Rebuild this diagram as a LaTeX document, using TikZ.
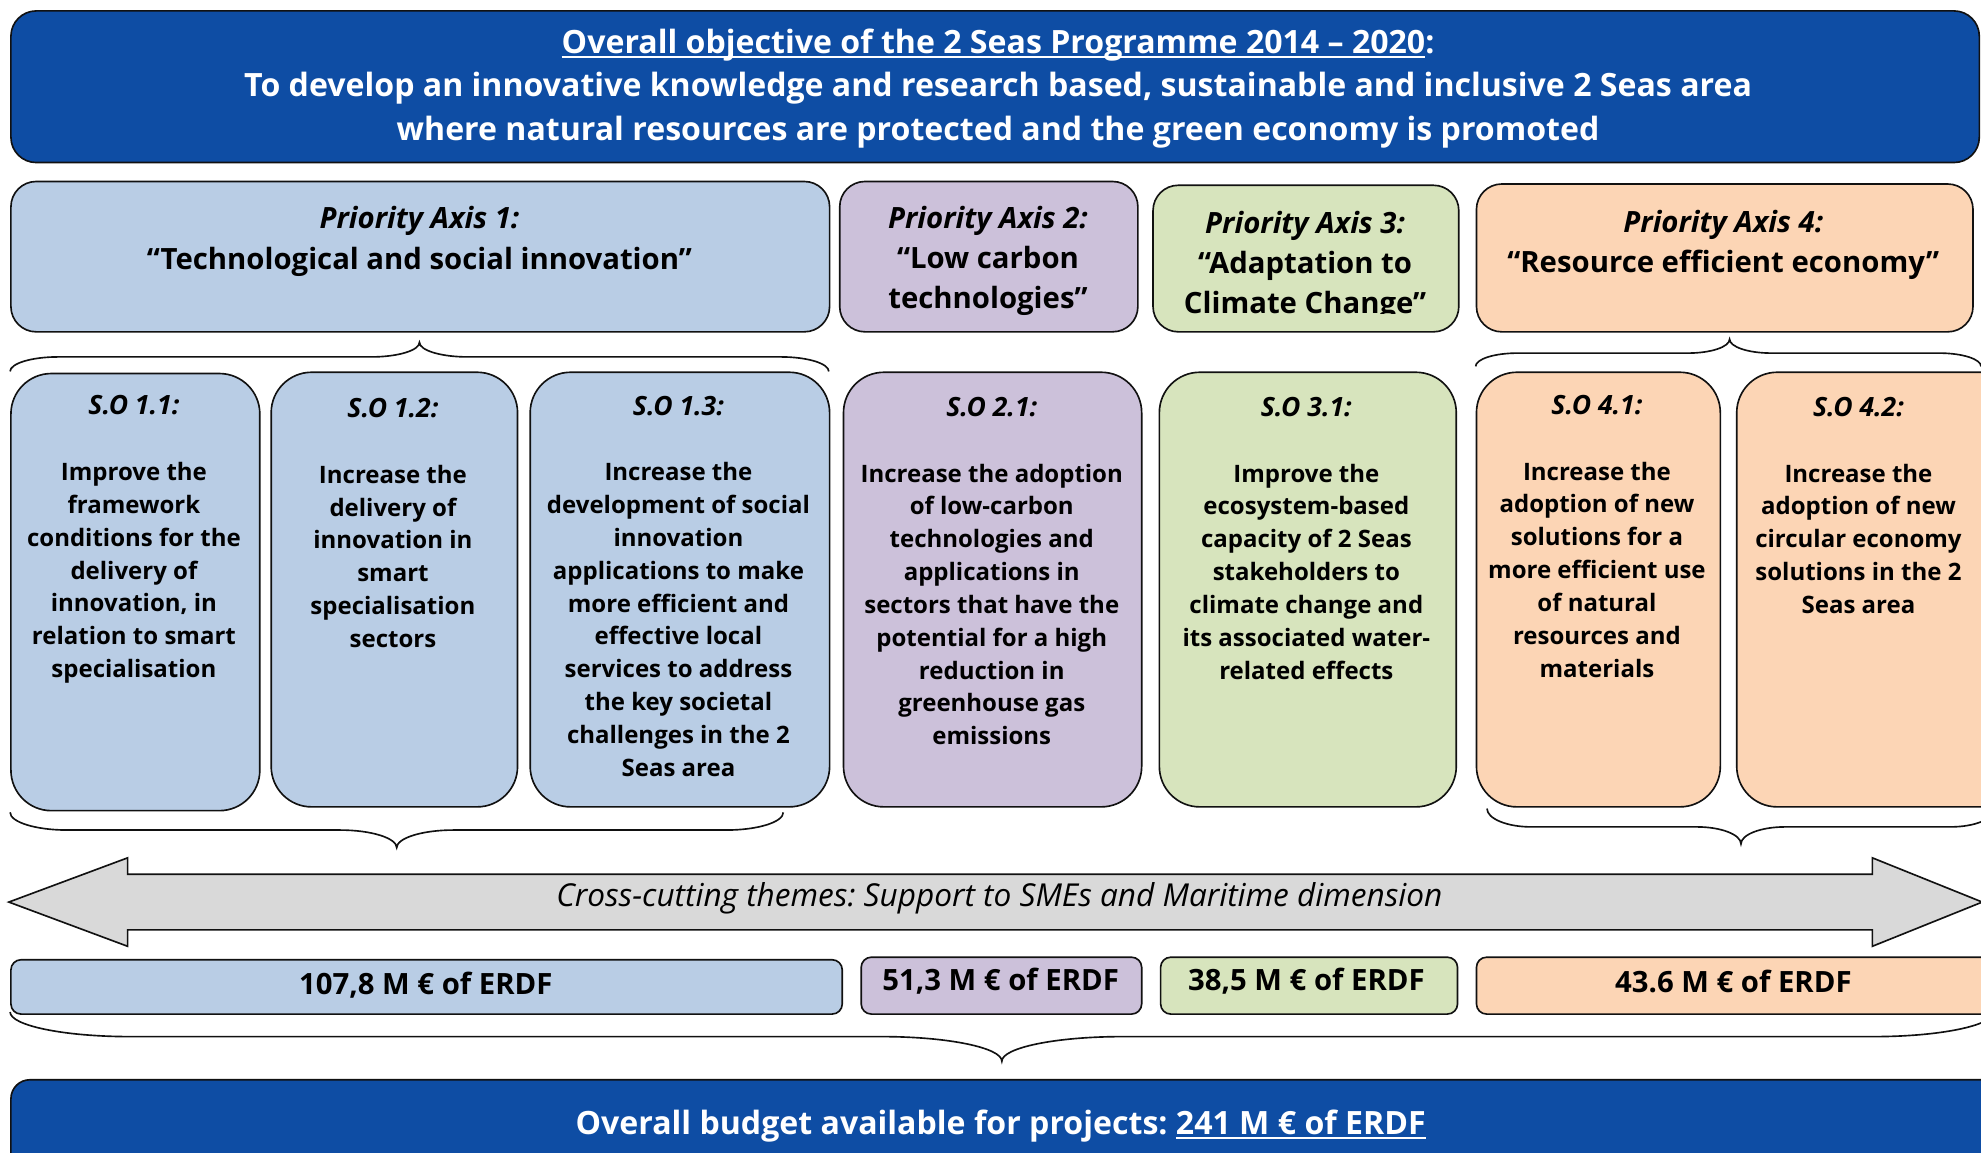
\documentclass[tikz,border=0pt]{standalone}
\usepackage{fontspec}
\setmainfont{Open Sans}
\frenchspacing
\newsavebox{\ulbox}
\newcommand{\myul}[1]{\sbox{\ulbox}{#1}\rlap{\rule[-3.6pt]{\wd\ulbox}{1.6pt}}\usebox{\ulbox}}
\newcommand{\sotitle}[1]{{\fontsize{21}{26}\selectfont\itshape #1}}

\definecolor{dblue}{HTML}{0E4DA4}
\definecolor{lblue}{HTML}{B9CDE5}
\definecolor{lpurp}{HTML}{CCC1DA}
\definecolor{lgreen}{HTML}{D7E4BD}
\definecolor{lpeach}{HTML}{FCD5B5}
\definecolor{agray}{HTML}{D9D9D9}
\definecolor{edge}{HTML}{111111}

\tikzset{
 frame/.style={draw=edge, line width=1.3pt, inner sep=0pt, anchor=north west},
 bigbox/.style={frame, fill=dblue, rounded corners=20pt},
 pabox/.style={frame, rounded corners=20pt},
 sobox/.style={frame, rounded corners=32pt},
 budbox/.style={frame, rounded corners=8pt},
 txt/.style={inner sep=0pt, align=center, text=black},
 hdtxt/.style={txt, text=white, font=\bfseries\fontsize{25.4}{34.5}\selectfont},
 patxt/.style={txt, font=\bfseries\fontsize{23.2}{32}\selectfont},
 sotxt/.style={txt, font=\bfseries\fontsize{19}{26}\selectfont},
 budtxt/.style={txt, font=\bfseries\fontsize{23.2}{28}\selectfont},
 arrtxt/.style={txt, font=\itshape\fontsize{25}{30}\selectfont},
 bracestyle/.style={draw=edge, line width=1.3pt},
 arrowshape/.style={draw=edge, line width=1.3pt, fill=agray, line join=miter},
}

% name, style, x0, y0, x1, y1  (y measured downwards)
\newcommand{\rbox}[6]{\node[#2, minimum width={#5pt-#3pt}, minimum height={#6pt-#4pt}] (#1) at (#3,-#4) {};}

% x0, x1, xm, yend, yline, ytip, r
\newcommand{\mybrace}[7]{%
 \draw[bracestyle] (#1,-#4)
  .. controls (#1,{-(#4+0.55*(#5-#4))}) and ({#1+0.45*#7},-#5) .. ({#1+#7},-#5)
  -- ({#3-#7},-#5)
  .. controls ({#3-0.45*#7},-#5) and (#3,{-(#5+0.45*(#6-#5))}) .. (#3,-#6)
  .. controls (#3,{-(#5+0.45*(#6-#5))}) and ({#3+0.45*#7},-#5) .. ({#3+#7},-#5)
  -- ({#2-#7},-#5)
  .. controls ({#2-0.45*#7},-#5) and (#2,{-(#4+0.55*(#5-#4))}) .. (#2,-#4);}

\begin{document}
\begin{tikzpicture}[x=1pt,y=1pt]
\useasboundingbox (0,0) rectangle (1568,-912.6);

% header
\rbox{top}{bigbox}{8}{8}{1566}{128}
\node[hdtxt] (toptxt) at (790,-70) {\myul{Overall objective of the 2 Seas Programme 2014 – 2020}:\\
To develop an innovative knowledge and research based, sustainable and inclusive 2 Seas area\\
where natural resources are protected and the green economy is promoted};

% priority axes
\rbox{pa1}{pabox, fill=lblue}{8}{143}{656}{262}
\rbox{pa2}{pabox, fill=lpurp}{664}{143}{900}{262}
\rbox{pa3}{pabox, fill=lgreen}{912}{146}{1154}{262}
\rbox{pa4}{pabox, fill=lpeach}{1168}{145}{1561}{262}

\node[patxt] (pa1t) at (332,-191) {\textit{Priority Axis 1:}\\“Technological and social innovation”};
\node[patxt] (pa2t) at (782,-206.5) {\textit{Priority Axis 2:}\\“Low carbon\\technologies”};
\begin{scope}
\clip (912,-146) rectangle (1154,-248);
\node[patxt] (pa3t) at (1033,-210.5) {\textit{Priority Axis 3:}\\“Adaptation to\\Climate Change”};
\end{scope}
\node[patxt] (pa4t) at (1364,-194) {\textit{Priority Axis 4:}\\“Resource efficient economy”};

% braces above specific objectives
\mybrace{8}{656}{332}{294}{282.5}{271}{38}
\mybrace{1168}{1568}{1369}{290}{279.5}{268.5}{33}

% specific objectives
\rbox{so11}{sobox, fill=lblue}{8}{295}{205}{641}
\rbox{so12}{sobox, fill=lblue}{214}{294}{409}{638}
\rbox{so13}{sobox, fill=lblue}{419}{294}{656}{638}
\rbox{so21}{sobox, fill=lpurp}{667}{294}{903}{638}
\rbox{so31}{sobox, fill=lgreen}{917}{294}{1152}{638}
\rbox{so41}{sobox, fill=lpeach}{1168}{294}{1361}{638}
\rbox{so42}{sobox, fill=lpeach}{1374}{294}{1610}{638}

\node[sotxt] (so11t) at (106,-427) {\sotitle{S.O 1.1:}\\[26pt]Improve the\\framework\\conditions for the\\delivery of\\innovation, in\\relation to smart\\specialisation};
\node[sotxt] (so12t) at (311,-414) {\sotitle{S.O 1.2:}\\[26pt]Increase the\\delivery of\\innovation in\\smart\\specialisation\\sectors};
\node[sotxt] (so13t) at (537,-464) {\sotitle{S.O 1.3:}\\[26pt]Increase the\\development of social\\innovation\\applications to make\\more efficient and\\effective local\\services to address\\the key societal\\challenges in the 2\\Seas area};
\node[sotxt] (so21t) at (785,-452) {\sotitle{S.O 2.1:}\\[26pt]Increase the adoption\\of low-carbon\\technologies and\\applications in\\sectors that have the\\potential for a high\\reduction in\\greenhouse gas\\emissions};
\node[sotxt] (so31t) at (1034,-426) {\sotitle{S.O 3.1:}\\[26pt]Improve the\\ecosystem-based\\capacity of 2 Seas\\stakeholders to\\climate change and\\its associated water-\\related effects};
\node[sotxt] (so41t) at (1264,-424.5) {\sotitle{S.O 4.1:}\\[26pt]Increase the\\adoption of new\\solutions for a\\more efficient use\\of natural\\resources and\\materials};
\node[sotxt] (so42t) at (1471,-400) {\sotitle{S.O 4.2:}\\[26pt]Increase the\\adoption of new\\circular economy\\solutions in the 2\\Seas area};

% braces below specific objectives
\mybrace{8}{620}{314}{643}{657}{671}{45}
\mybrace{1177}{1579}{1378}{640}{654.5}{668}{35}

% cross-cutting arrow
\draw[arrowshape] (7,-714) -- (101,-679) -- (101,-692) -- (1482,-692) -- (1482,-679)
  -- (1569,-714) -- (1482,-749) -- (1482,-736) -- (101,-736) -- (101,-749) -- cycle;
\node[arrtxt] (cross) at (791,-711) {Cross-cutting themes: Support to SMEs and Maritime dimension};

% budgets
\rbox{b1}{budbox, fill=lblue}{8}{759}{666}{802}
\rbox{b2}{budbox, fill=lpurp}{681}{757}{903}{802}
\rbox{b3}{budbox, fill=lgreen}{918}{757}{1153}{802}
\rbox{b4}{budbox, fill=lpeach}{1168}{757}{1600}{802}
\node[budtxt] (b1t) at (337,-780) {107,8 M € of ERDF};
\node[budtxt] (b2t) at (792,-777) {51,3 M € of ERDF};
\node[budtxt] (b3t) at (1034,-777) {38,5 M € of ERDF};
\node[budtxt] (b4t) at (1372,-777) {43.6 M € of ERDF};

% brace below budgets
\mybrace{8}{1578}{793}{801}{820.5}{840}{95}

% bottom box
\rbox{bot}{bigbox, rounded corners=15pt}{8}{854}{1600}{960}
\node[hdtxt] (bott) at (792,-891) {Overall budget available for projects: \myul{241 M € of ERDF}};
\end{tikzpicture}
\end{document}
